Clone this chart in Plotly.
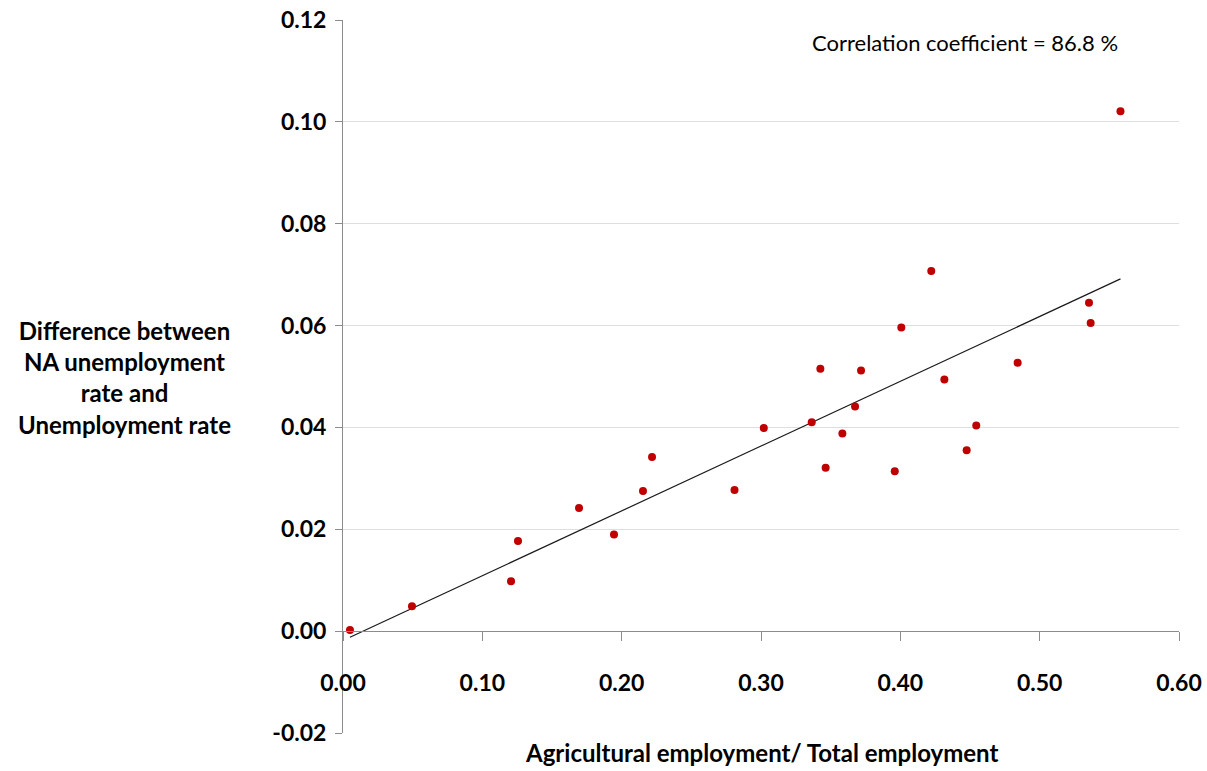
import numpy as np
import plotly.graph_objects as go

# Data
agri_share = [0.005, 0.0495, 0.1206, 0.1256, 0.1694, 0.1945, 0.2153, 0.2218,
              0.2810, 0.3020, 0.3364, 0.3426, 0.3464, 0.3584, 0.3675, 0.3718,
              0.3960, 0.4007, 0.4222, 0.4316, 0.4476, 0.4545, 0.4842, 0.5354,
              0.5366, 0.5580]
unemp_diff = [0.0002, 0.0049, 0.0098, 0.0177, 0.0242, 0.0190, 0.0275, 0.0342,
              0.0277, 0.0399, 0.0410, 0.0515, 0.0321, 0.0388, 0.0441, 0.0512,
              0.0314, 0.0596, 0.0707, 0.0494, 0.0355, 0.0404, 0.0527, 0.0645,
              0.0605, 0.1021]
x_ticks = [0.0, 0.1, 0.2, 0.3, 0.4, 0.5, 0.6]
x_tick_labels = ["0.00", "0.10", "0.20", "0.30", "0.40", "0.50", "0.60"]
y_ticks = [-0.02, 0.0, 0.02, 0.04, 0.06, 0.08, 0.10, 0.12]
y_tick_labels = ["-0.02", "0.00", "0.02", "0.04", "0.06", "0.08", "0.10", "0.12"]
corr_text = "Correlation coefficient = 86.8 %"
x_title = "Agricultural employment/ Total employment"
y_title = "Difference between<br>NA unemployment<br>rate and<br>Unemployment rate"

FONT = "Lato"

xa = np.array(agri_share)
ya = np.array(unemp_diff)
slope, intercept = np.polyfit(xa, ya, 1)
trend_x = [xa.min(), xa.max()]
trend_y = [slope * v + intercept for v in trend_x]

fig = go.Figure()
fig.add_trace(go.Scatter(x=trend_x, y=trend_y, mode="lines",
                         line=dict(color="#1a1a1a", width=1.2),
                         hoverinfo="skip", showlegend=False))
fig.add_trace(go.Scatter(x=agri_share, y=unemp_diff, mode="markers",
                         marker=dict(color="#C00000", size=8),
                         showlegend=False))

ymin, ymax = -0.02, 0.12
zero_pos = (0 - ymin) / (ymax - ymin)

fig.update_layout(
    width=1207, height=771,
    margin=dict(l=343, r=28, t=20, b=38, autoexpand=False),
    paper_bgcolor="white", plot_bgcolor="white",
    font=dict(family=FONT, color="black"),
    xaxis=dict(range=[0, 0.6], tickvals=x_ticks, ticktext=x_tick_labels,
               showgrid=False, zeroline=False, automargin=False,
               showline=True, linecolor="#8c8c8c", linewidth=1,
               ticks="outside", ticklen=9, tickcolor="#8c8c8c",
               anchor="free", position=zero_pos,
               ticklabelstandoff=22,
               tickfont=dict(family=FONT, size=23, color="black", weight="bold")),
    yaxis=dict(range=[ymin, ymax], tickvals=y_ticks, ticktext=y_tick_labels,
               showgrid=True, gridcolor="#dedede", gridwidth=1,
               zeroline=False, automargin=False,
               showline=True, linecolor="#8c8c8c", linewidth=1,
               ticks="outside", ticklen=7, tickcolor="#8c8c8c",
               ticklabelstandoff=4,
               tickfont=dict(family=FONT, size=23, color="black", weight="bold")),
    annotations=[
        dict(text=corr_text, xref="paper", yref="paper", x=0.744, y=0.968,
             xanchor="center", yanchor="middle", showarrow=False,
             font=dict(family=FONT, size=22, color="black")),
        dict(text=x_title, xref="paper", yref="paper", x=0.5, y=-0.004,
             xanchor="center", yanchor="top", showarrow=False,
             font=dict(family=FONT, size=24, color="black", weight="bold")),
        dict(text=y_title, xref="paper", yref="paper", x=-0.261, y=0.499,
             xanchor="center", yanchor="middle", showarrow=False, align="center",
             font=dict(family=FONT, size=24, color="black", weight="bold")),
    ],
)

fig.write_html("out.html", config={"displayModeBar": False},
               post_script="document.body.style.margin='0';document.body.style.overflow='hidden';")
